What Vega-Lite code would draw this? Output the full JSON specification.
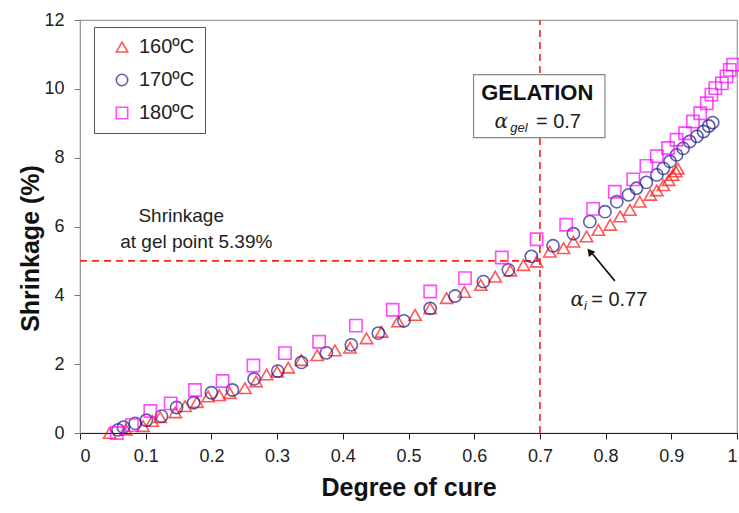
{
  "$schema": "https://vega.github.io/schema/vega-lite/v6.json",
  "width": 657,
  "height": 413,
  "autosize": {"type": "none"},
  "padding": {"left": 80, "top": 20, "right": 2, "bottom": 80},
  "background": "white",
  "config": {
    "font": "Liberation Sans",
    "view": {"stroke": "#9a9a9a", "strokeWidth": 1.2},
    "axis": {"labelFont": "Liberation Sans", "titleFont": "Liberation Sans", "labelColor": "#222", "titleColor": "#111", "grid": false, "labelFontSize": 18, "titleFontSize": 25, "titleFontWeight": "bold", "tickSize": 6},
    "legend": {"orient": "none", "legendX": 14, "legendY": 7, "strokeColor": "#555", "fillColor": "white", "padding": 10, "labelFontSize": 20, "labelFont": "Liberation Sans", "labelColor": "#222", "symbolSize": 130, "symbolStrokeWidth": 1.6, "rowPadding": 13, "symbolOffset": 8, "labelOffset": 7}
  },
  "datasets": {
    "cure": [
      {"series": "160ºC", "alpha": 0.045, "shrink": 0.0},
      {"series": "160ºC", "alpha": 0.07, "shrink": 0.1},
      {"series": "160ºC", "alpha": 0.096, "shrink": 0.2},
      {"series": "160ºC", "alpha": 0.11, "shrink": 0.35},
      {"series": "160ºC", "alpha": 0.122, "shrink": 0.46},
      {"series": "160ºC", "alpha": 0.145, "shrink": 0.6},
      {"series": "160ºC", "alpha": 0.16, "shrink": 0.78},
      {"series": "160ºC", "alpha": 0.178, "shrink": 0.9},
      {"series": "160ºC", "alpha": 0.195, "shrink": 1.06},
      {"series": "160ºC", "alpha": 0.212, "shrink": 1.1},
      {"series": "160ºC", "alpha": 0.228, "shrink": 1.16},
      {"series": "160ºC", "alpha": 0.251, "shrink": 1.3},
      {"series": "160ºC", "alpha": 0.268, "shrink": 1.5},
      {"series": "160ºC", "alpha": 0.284, "shrink": 1.7},
      {"series": "160ºC", "alpha": 0.3, "shrink": 1.78},
      {"series": "160ºC", "alpha": 0.317, "shrink": 1.9},
      {"series": "160ºC", "alpha": 0.337, "shrink": 2.12},
      {"series": "160ºC", "alpha": 0.361, "shrink": 2.26},
      {"series": "160ºC", "alpha": 0.388, "shrink": 2.4},
      {"series": "160ºC", "alpha": 0.411, "shrink": 2.48},
      {"series": "160ºC", "alpha": 0.436, "shrink": 2.75},
      {"series": "160ºC", "alpha": 0.459, "shrink": 2.94},
      {"series": "160ºC", "alpha": 0.484, "shrink": 3.24},
      {"series": "160ºC", "alpha": 0.51, "shrink": 3.43},
      {"series": "160ºC", "alpha": 0.533, "shrink": 3.62},
      {"series": "160ºC", "alpha": 0.558, "shrink": 3.92},
      {"series": "160ºC", "alpha": 0.585, "shrink": 4.1},
      {"series": "160ºC", "alpha": 0.61, "shrink": 4.3},
      {"series": "160ºC", "alpha": 0.632, "shrink": 4.54},
      {"series": "160ºC", "alpha": 0.655, "shrink": 4.72},
      {"series": "160ºC", "alpha": 0.675, "shrink": 4.88},
      {"series": "160ºC", "alpha": 0.695, "shrink": 4.98},
      {"series": "160ºC", "alpha": 0.715, "shrink": 5.27},
      {"series": "160ºC", "alpha": 0.736, "shrink": 5.37},
      {"series": "160ºC", "alpha": 0.751, "shrink": 5.56},
      {"series": "160ºC", "alpha": 0.771, "shrink": 5.71},
      {"series": "160ºC", "alpha": 0.789, "shrink": 5.9},
      {"series": "160ºC", "alpha": 0.807, "shrink": 6.05},
      {"series": "160ºC", "alpha": 0.822, "shrink": 6.29},
      {"series": "160ºC", "alpha": 0.837, "shrink": 6.48},
      {"series": "160ºC", "alpha": 0.852, "shrink": 6.72},
      {"series": "160ºC", "alpha": 0.868, "shrink": 6.92},
      {"series": "160ºC", "alpha": 0.878, "shrink": 7.05},
      {"series": "160ºC", "alpha": 0.888, "shrink": 7.2},
      {"series": "160ºC", "alpha": 0.896, "shrink": 7.35},
      {"series": "160ºC", "alpha": 0.902, "shrink": 7.5},
      {"series": "160ºC", "alpha": 0.907, "shrink": 7.6},
      {"series": "160ºC", "alpha": 0.91, "shrink": 7.68},
      {"series": "170ºC", "alpha": 0.058, "shrink": 0.09},
      {"series": "170ºC", "alpha": 0.066, "shrink": 0.17},
      {"series": "170ºC", "alpha": 0.084, "shrink": 0.28},
      {"series": "170ºC", "alpha": 0.101, "shrink": 0.37},
      {"series": "170ºC", "alpha": 0.124, "shrink": 0.49},
      {"series": "170ºC", "alpha": 0.147, "shrink": 0.74},
      {"series": "170ºC", "alpha": 0.173, "shrink": 0.88},
      {"series": "170ºC", "alpha": 0.2, "shrink": 1.17},
      {"series": "170ºC", "alpha": 0.232, "shrink": 1.25},
      {"series": "170ºC", "alpha": 0.265, "shrink": 1.57},
      {"series": "170ºC", "alpha": 0.301, "shrink": 1.8},
      {"series": "170ºC", "alpha": 0.337, "shrink": 2.05},
      {"series": "170ºC", "alpha": 0.375, "shrink": 2.33},
      {"series": "170ºC", "alpha": 0.413, "shrink": 2.56},
      {"series": "170ºC", "alpha": 0.454, "shrink": 2.9},
      {"series": "170ºC", "alpha": 0.493, "shrink": 3.26},
      {"series": "170ºC", "alpha": 0.533, "shrink": 3.62},
      {"series": "170ºC", "alpha": 0.571, "shrink": 3.98},
      {"series": "170ºC", "alpha": 0.614, "shrink": 4.4},
      {"series": "170ºC", "alpha": 0.652, "shrink": 4.74},
      {"series": "170ºC", "alpha": 0.687, "shrink": 5.13},
      {"series": "170ºC", "alpha": 0.72, "shrink": 5.44},
      {"series": "170ºC", "alpha": 0.751, "shrink": 5.79},
      {"series": "170ºC", "alpha": 0.776, "shrink": 6.14},
      {"series": "170ºC", "alpha": 0.799, "shrink": 6.43},
      {"series": "170ºC", "alpha": 0.817, "shrink": 6.72},
      {"series": "170ºC", "alpha": 0.835, "shrink": 6.92},
      {"series": "170ºC", "alpha": 0.847, "shrink": 7.11},
      {"series": "170ºC", "alpha": 0.862, "shrink": 7.28},
      {"series": "170ºC", "alpha": 0.878, "shrink": 7.5},
      {"series": "170ºC", "alpha": 0.888, "shrink": 7.69},
      {"series": "170ºC", "alpha": 0.898, "shrink": 7.89},
      {"series": "170ºC", "alpha": 0.908, "shrink": 8.08},
      {"series": "170ºC", "alpha": 0.918, "shrink": 8.27},
      {"series": "170ºC", "alpha": 0.928, "shrink": 8.47},
      {"series": "170ºC", "alpha": 0.939, "shrink": 8.62},
      {"series": "170ºC", "alpha": 0.949, "shrink": 8.76},
      {"series": "170ºC", "alpha": 0.957, "shrink": 8.92},
      {"series": "170ºC", "alpha": 0.963, "shrink": 9.02},
      {"series": "180ºC", "alpha": 0.056, "shrink": 0.0},
      {"series": "180ºC", "alpha": 0.079, "shrink": 0.23},
      {"series": "180ºC", "alpha": 0.107, "shrink": 0.64},
      {"series": "180ºC", "alpha": 0.138, "shrink": 0.86},
      {"series": "180ºC", "alpha": 0.175, "shrink": 1.25},
      {"series": "180ºC", "alpha": 0.217, "shrink": 1.51},
      {"series": "180ºC", "alpha": 0.264, "shrink": 1.96},
      {"series": "180ºC", "alpha": 0.312, "shrink": 2.32},
      {"series": "180ºC", "alpha": 0.364, "shrink": 2.65},
      {"series": "180ºC", "alpha": 0.42, "shrink": 3.12},
      {"series": "180ºC", "alpha": 0.476, "shrink": 3.58},
      {"series": "180ºC", "alpha": 0.533, "shrink": 4.11},
      {"series": "180ºC", "alpha": 0.586, "shrink": 4.5},
      {"series": "180ºC", "alpha": 0.642, "shrink": 5.1},
      {"series": "180ºC", "alpha": 0.695, "shrink": 5.63},
      {"series": "180ºC", "alpha": 0.74, "shrink": 6.05},
      {"series": "180ºC", "alpha": 0.781, "shrink": 6.51},
      {"series": "180ºC", "alpha": 0.814, "shrink": 7.01},
      {"series": "180ºC", "alpha": 0.842, "shrink": 7.37},
      {"series": "180ºC", "alpha": 0.862, "shrink": 7.76},
      {"series": "180ºC", "alpha": 0.878, "shrink": 8.04},
      {"series": "180ºC", "alpha": 0.895, "shrink": 8.28},
      {"series": "180ºC", "alpha": 0.908, "shrink": 8.52},
      {"series": "180ºC", "alpha": 0.921, "shrink": 8.71},
      {"series": "180ºC", "alpha": 0.933, "shrink": 9.05},
      {"series": "180ºC", "alpha": 0.944, "shrink": 9.29},
      {"series": "180ºC", "alpha": 0.954, "shrink": 9.58},
      {"series": "180ºC", "alpha": 0.961, "shrink": 9.83},
      {"series": "180ºC", "alpha": 0.967, "shrink": 10.02},
      {"series": "180ºC", "alpha": 0.977, "shrink": 10.16},
      {"series": "180ºC", "alpha": 0.984, "shrink": 10.36},
      {"series": "180ºC", "alpha": 0.989, "shrink": 10.55},
      {"series": "180ºC", "alpha": 0.994, "shrink": 10.7}
    ]
  },
  "encoding": {
    "x": {"type": "quantitative", "scale": {"domain": [0, 1], "nice": false, "zero": false}},
    "y": {"type": "quantitative", "scale": {"domain": [0, 12], "nice": false}}
  },
  "layer": [
    {
      "data": {"values": [{"a": 0, "s": 5, "a2": 0.7}]},
      "mark": {"type": "rule", "color": "#ff2020", "strokeWidth": 1.6, "strokeDash": [7, 5]},
      "encoding": {
        "x": {"field": "a", "type": "quantitative", "axis": {"title": "Degree of cure", "values": [0, 0.1, 0.2, 0.3, 0.4, 0.5, 0.6, 0.7, 0.8, 0.9, 1], "format": "~f", "domainColor": "#222", "tickColor": "#222", "labelPadding": 8, "titlePadding": 10}},
        "x2": {"field": "a2"},
        "y": {"field": "s", "type": "quantitative", "axis": {"title": "Shrinkage (%)", "values": [0, 2, 4, 6, 8, 10, 12], "domainColor": "#9a9a9a", "tickColor": "#777", "labelPadding": 10, "titleX": -50, "titleY": 228, "titleBaseline": "middle"}}
      }
    },
    {
      "data": {"values": [{"a": 0.7, "s": 0, "s2": 12}]},
      "mark": {"type": "rule", "color": "#ff2020", "strokeWidth": 1.6, "strokeDash": [7, 5]},
      "encoding": {
        "x": {"field": "a", "type": "quantitative"},
        "y": {"field": "s", "type": "quantitative"},
        "y2": {"field": "s2"}
      }
    },
    {
      "data": {"values": [{"a": 0.599, "a2": 0.799, "s": 10.41, "s2": 8.58}]},
      "mark": {"type": "rect", "fill": "white", "stroke": "#888", "strokeWidth": 1.2},
      "encoding": {
        "x": {"field": "a", "type": "quantitative"},
        "x2": {"field": "a2"},
        "y": {"field": "s", "type": "quantitative"},
        "y2": {"field": "s2"}
      }
    },
    {
      "data": {"name": "cure"},
      "mark": {"type": "point", "filled": false, "strokeWidth": 1.6, "size": 150},
      "encoding": {
        "x": {"field": "alpha", "type": "quantitative"},
        "y": {"field": "shrink", "type": "quantitative"},
        "color": {"field": "series", "type": "nominal", "title": null, "scale": {"domain": ["160ºC", "170ºC", "180ºC"], "range": ["#ff1010", "#1c1c85", "#ff00ff"]}},
        "shape": {"field": "series", "type": "nominal", "title": null, "scale": {"domain": ["160ºC", "170ºC", "180ºC"], "range": ["triangle-up", "circle", "square"]}}
      }
    },
    {
      "data": {"values": [{"a": 0.814, "s": 4.42}, {"a": 0.776, "s": 5.3}]},
      "mark": {"type": "line", "color": "#111", "strokeWidth": 1.6},
      "encoding": {
        "x": {"field": "a", "type": "quantitative"},
        "y": {"field": "s", "type": "quantitative"}
      }
    },
    {
      "data": {"values": [{"a": 0.776, "s": 5.27}]},
      "mark": {"type": "point", "shape": "triangle-up", "filled": true, "color": "#111", "size": 70, "angle": 320, "opacity": 1},
      "encoding": {
        "x": {"field": "a", "type": "quantitative"},
        "y": {"field": "s", "type": "quantitative"}
      }
    },
    {
      "data": {"values": [{"a": 0.154, "s": 6.31, "t": "Shrinkage"}, {"a": 0.177, "s": 5.55, "t": "at gel point 5.39%"}]},
      "mark": {"type": "text", "fontSize": 19, "color": "#222", "align": "center", "baseline": "middle"},
      "encoding": {
        "x": {"field": "a", "type": "quantitative"},
        "y": {"field": "s", "type": "quantitative"},
        "text": {"field": "t"}
      }
    },
    {
      "data": {"values": [{"a": 0.696, "s": 9.88, "t": "GELATION"}]},
      "mark": {"type": "text", "fontSize": 22, "fontWeight": "bold", "color": "#111", "align": "center", "baseline": "middle"},
      "encoding": {
        "x": {"field": "a", "type": "quantitative"},
        "y": {"field": "s", "type": "quantitative"},
        "text": {"field": "t"}
      }
    },
    {
      "data": {"values": [{"a": 0.641, "s": 9.04, "t": "α"}, {"a": 0.757, "s": 3.87, "t": "α"}]},
      "mark": {"type": "text", "fontSize": 20, "font": "DejaVu Serif", "fontStyle": "italic", "color": "#222", "align": "center", "baseline": "middle"},
      "encoding": {
        "x": {"field": "a", "type": "quantitative"},
        "y": {"field": "s", "type": "quantitative"},
        "text": {"field": "t"}
      }
    },
    {
      "data": {"values": [{"a": 0.655, "s": 8.87, "t": "gel"}, {"a": 0.767, "s": 3.7, "t": "i"}]},
      "mark": {"type": "text", "fontSize": 13, "fontStyle": "italic", "color": "#222", "align": "left", "baseline": "middle"},
      "encoding": {
        "x": {"field": "a", "type": "quantitative"},
        "y": {"field": "s", "type": "quantitative"},
        "text": {"field": "t"}
      }
    },
    {
      "data": {"values": [{"a": 0.694, "s": 9.04, "t": "= 0.7"}, {"a": 0.778, "s": 3.87, "t": "= 0.77"}]},
      "mark": {"type": "text", "fontSize": 20, "color": "#222", "align": "left", "baseline": "middle"},
      "encoding": {
        "x": {"field": "a", "type": "quantitative"},
        "y": {"field": "s", "type": "quantitative"},
        "text": {"field": "t"}
      }
    }
  ]
}
